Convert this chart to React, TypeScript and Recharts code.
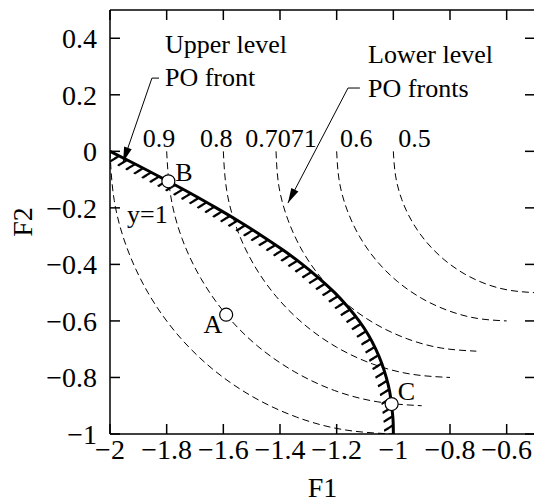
import React from "react";
import {
  ComposedChart,
  Line,
  Scatter,
  XAxis,
  YAxis,
  Label,
} from "recharts";

const FONT = "'Liberation Serif', 'Times New Roman', Times, serif";

// axis ticks
const xTicks = [-2, -1.8, -1.6, -1.4, -1.2, -1, -0.8, -0.6];
const yTicks = [-1, -0.8, -0.6, -0.4, -0.2, 0, 0.2, 0.4];

// upper level PO front (F1, F2)
const upperFront: [number, number][] = [
  [-2, 0], [-1.901, -0.05], [-1.806, -0.1], [-1.713, -0.15], [-1.625, -0.2],
  [-1.541, -0.25], [-1.462, -0.3], [-1.388, -0.35], [-1.321, -0.4], [-1.261, -0.45],
  [-1.207, -0.5], [-1.161, -0.55], [-1.121, -0.6], [-1.088, -0.65], [-1.062, -0.7],
  [-1.041, -0.75], [-1.025, -0.8], [-1.013, -0.85], [-1.006, -0.9], [-1.001, -0.95],
  [-1, -1],
];

// lower level PO fronts, one per y
const lowerY100: [number, number][] = [
  [-2, 0], [-1.985, -0.174], [-1.94, -0.342], [-1.866, -0.5], [-1.766, -0.643],
  [-1.643, -0.766], [-1.5, -0.866], [-1.342, -0.94], [-1.174, -0.985], [-1, -1],
];
const lowerY090: [number, number][] = [
  [-1.8, 0], [-1.786, -0.156], [-1.746, -0.308], [-1.679, -0.45], [-1.589, -0.579],
  [-1.479, -0.689], [-1.35, -0.779], [-1.208, -0.846], [-1.056, -0.886], [-0.9, -0.9],
];
const lowerY080: [number, number][] = [
  [-1.6, 0], [-1.588, -0.139], [-1.552, -0.274], [-1.493, -0.4], [-1.413, -0.514],
  [-1.314, -0.613], [-1.2, -0.693], [-1.074, -0.752], [-0.939, -0.788], [-0.8, -0.8],
];
const lowerY0707: [number, number][] = [
  [-1.414, 0], [-1.404, -0.123], [-1.372, -0.242], [-1.32, -0.354], [-1.249, -0.455],
  [-1.162, -0.542], [-1.061, -0.612], [-0.949, -0.664], [-0.83, -0.696], [-0.707, -0.707],
];
const lowerY060: [number, number][] = [
  [-1.2, 0], [-1.191, -0.104], [-1.164, -0.205], [-1.12, -0.3], [-1.06, -0.386],
  [-0.986, -0.46], [-0.9, -0.52], [-0.805, -0.564], [-0.704, -0.591], [-0.6, -0.6],
];
const lowerY050: [number, number][] = [
  [-1, 0], [-0.992, -0.087], [-0.97, -0.171], [-0.933, -0.25], [-0.883, -0.321],
  [-0.821, -0.383], [-0.75, -0.433], [-0.671, -0.47], [-0.587, -0.492], [-0.5, -0.5],
];
const lowerFronts = [lowerY100, lowerY090, lowerY080, lowerY0707, lowerY060, lowerY050];

// marked solutions
const pointNames = ["A", "B", "C"];
const pointF1 = [-1.59, -1.794, -1.006];
const pointF2 = [-0.578, -0.106, -0.894];

// annotation arrows: leader polylines, tip is last point
const upperArrow: [number, number][] = [[-1.827, 0.259], [-1.852, 0.259], [-1.954, -0.038]];
const lowerArrow: [number, number][] = [[-1.118, 0.224], [-1.16, 0.224], [-1.372, -0.183]];

// text notes in data coordinates
const notes: { text: string; x: number; y: number }[] = [
  { text: "Upper level", x: -1.806, y: 0.348 },
  { text: "PO front", x: -1.806, y: 0.231 },
  { text: "Lower level", x: -1.089, y: 0.312 },
  { text: "PO fronts", x: -1.089, y: 0.192 },
  { text: "y=1", x: -1.94, y: -0.254 },
  { text: "0.9", x: -1.884, y: 0.015 },
  { text: "0.8", x: -1.682, y: 0.015 },
  { text: "0.7071", x: -1.523, y: 0.015 },
  { text: "0.6", x: -1.188, y: 0.015 },
  { text: "0.5", x: -0.983, y: 0.015 },
];

const toRows = (pts: [number, number][]) => pts.map(([x, y]) => ({ x, y }));
const pointRows = pointNames.map((name, i) => ({ name, x: pointF1[i], y: pointF2[i] }));

// layout
const PLOT_W = 425;
const PLOT_H = 424;
const X_DOMAIN = [-2, -0.5];
const Y_DOMAIN = [-1, 0.5];
// hatch copies: each one shifted a pixel down-left along the hatch direction
const HATCH_STEPS = [1, 2, 3, 4, 5, 6, 7, 8, 9, 10];
const HATCH_DX = 0.85;
const HATCH_DY = 0.53;

const labelOffset: Record<string, { dx: number; dy: number; anchor: "start" | "end" }> = {
  A: { dx: -4, dy: 18, anchor: "end" },
  B: { dx: 7, dy: 0, anchor: "start" },
  C: { dx: 6, dy: -4, anchor: "start" },
};

const fmt = (v: number) => (v === 0 ? "0" : String(v).replace("-", "\u2212"));

const axisStroke = { stroke: "#000", strokeWidth: 1.5 };
const tickText = { fontFamily: FONT, fontSize: 28, fill: "#000" };
const noteText = { fontFamily: FONT, fontSize: 26, fill: "#000" };

function XTick(props: any) {
  const { x, y, payload } = props;
  return (
    <text x={x} y={y} dy={17} textAnchor="middle" fill="#000" style={tickText}>
      {fmt(payload.value)}
    </text>
  );
}

function YTick(props: any) {
  const { x, y, payload } = props;
  return (
    <text x={x} y={y} dy={10} textAnchor="end" fill="#000" style={tickText}>
      {fmt(payload.value)}
    </text>
  );
}

function XTitle(props: any) {
  const { x, y, width, height } = props.viewBox;
  return (
    <text x={x + width / 2} y={y + height - 5} textAnchor="middle" fill="#000" style={tickText}>
      F1
    </text>
  );
}

function YTitle(props: any) {
  const { x, y, width, height } = props.viewBox;
  const cx = x + width / 2 - 33;
  const cy = y + height / 2;
  return (
    <text x={cx} y={cy} dy={10} textAnchor="middle" fill="#000" style={tickText} transform={`rotate(-90, ${cx}, ${cy})`}>
      F2
    </text>
  );
}

function PointShape(props: any) {
  const { cx, cy, payload } = props;
  const o = labelOffset[payload.name];
  return (
    <g>
      <circle cx={cx} cy={cy} r={6.5} fill="#fff" stroke="#000" strokeWidth={1.2} />
      <text x={cx + o.dx} y={cy + o.dy} textAnchor={o.anchor} fill="#000" style={noteText}>
        {payload.name}
      </text>
    </g>
  );
}

function NoteShape(props: any) {
  const { cx, cy, payload } = props;
  return (
    <text x={cx} y={cy} fill="#000" style={noteText}>
      {payload.text}
    </text>
  );
}

function arrowHead(angleDeg: number) {
  return function ArrowHead(props: any) {
    const { cx, cy } = props;
    const a = (angleDeg * Math.PI) / 180;
    const L = 15;
    const W = 4;
    const bx = cx - L * Math.cos(a);
    const by = cy - L * Math.sin(a);
    const nx = -Math.sin(a) * W;
    const ny = Math.cos(a) * W;
    return <polygon points={`${cx},${cy} ${bx + nx},${by + ny} ${bx - nx},${by - ny}`} fill="#000" />;
  };
}

export default function App() {
  const unitX = (X_DOMAIN[1] - X_DOMAIN[0]) / PLOT_W;
  const unitY = (Y_DOMAIN[1] - Y_DOMAIN[0]) / PLOT_H;
  const front = toRows(upperFront);

  return (
    <div style={{ position: "fixed", left: 0, top: 0, width: 534, height: 502, overflow: "hidden", background: "#fff", fontFamily: FONT }}>
      <ComposedChart width={548} height={502} margin={{ top: 9, right: 12, bottom: 0, left: 0 }}>
        <XAxis
          type="number"
          dataKey="x"
          domain={X_DOMAIN}
          allowDataOverflow
          ticks={xTicks}
          tick={<XTick />}
          tickSize={-10}
          tickMargin={18}
          axisLine={axisStroke}
          tickLine={axisStroke}
          height={68}
          interval={0}
        >
          <Label content={<XTitle />} />
        </XAxis>
        <XAxis
          xAxisId="top"
          orientation="top"
          type="number"
          dataKey="x"
          domain={X_DOMAIN}
          allowDataOverflow
          ticks={xTicks}
          tickFormatter={() => ""}
          tickSize={-10}
          axisLine={axisStroke}
          tickLine={axisStroke}
          height={1}
          interval={0}
        />
        <YAxis
          type="number"
          domain={Y_DOMAIN}
          allowDataOverflow
          ticks={yTicks}
          tick={<YTick />}
          tickSize={-10}
          tickMargin={23}
          axisLine={axisStroke}
          tickLine={axisStroke}
          width={110}
          interval={0}
        >
          <Label content={<YTitle />} />
        </YAxis>
        <YAxis
          yAxisId="right"
          orientation="right"
          type="number"
          domain={Y_DOMAIN}
          allowDataOverflow
          ticks={yTicks}
          tickFormatter={() => ""}
          tickSize={-10}
          axisLine={axisStroke}
          tickLine={axisStroke}
          width={1}
          interval={0}
        />
        {HATCH_STEPS.map((k) => (
          <XAxis
            key={`hx${k}`}
            xAxisId={`h${k}`}
            type="number"
            dataKey="x"
            domain={[X_DOMAIN[0] + k * HATCH_DX * unitX, X_DOMAIN[1] + k * HATCH_DX * unitX]}
            allowDataOverflow
            hide
          />
        ))}
        {HATCH_STEPS.map((k) => (
          <YAxis
            key={`hy${k}`}
            yAxisId={`h${k}`}
            type="number"
            domain={[Y_DOMAIN[0] + k * HATCH_DY * unitY, Y_DOMAIN[1] + k * HATCH_DY * unitY]}
            allowDataOverflow
            hide
          />
        ))}

        {/* invisible series so the mirrored top/right axes get drawn */}
        <Line
          xAxisId="top"
          yAxisId="right"
          data={front}
          dataKey="y"
          stroke="none"
          dot={false}
          activeDot={false}
          isAnimationActive={false}
        />

        {lowerFronts.map((pts, i) => (
          <Line
            key={`lower${i}`}
            data={toRows(pts)}
            dataKey="y"
            type="natural"
            stroke="#000"
            strokeWidth={1}
            strokeDasharray="7 4"
            dot={false}
            activeDot={false}
            isAnimationActive={false}
          />
        ))}

        {HATCH_STEPS.map((k) => (
          <Line
            key={`hatch${k}`}
            xAxisId={`h${k}`}
            yAxisId={`h${k}`}
            data={front}
            dataKey="y"
            type="natural"
            stroke="#000"
            strokeWidth={1.5}
            strokeDasharray="2.2 6.8"
            dot={false}
            activeDot={false}
            isAnimationActive={false}
          />
        ))}

        <Line
          data={front}
          dataKey="y"
          type="natural"
          stroke="#000"
          strokeWidth={3}
          dot={false}
          activeDot={false}
          isAnimationActive={false}
        />

        <Line data={toRows(upperArrow)} dataKey="y" type="linear" stroke="#000" strokeWidth={1} dot={false} activeDot={false} isAnimationActive={false} />
        <Line data={toRows(lowerArrow)} dataKey="y" type="linear" stroke="#000" strokeWidth={1} dot={false} activeDot={false} isAnimationActive={false} />
        <Scatter data={toRows(upperArrow.slice(-1))} dataKey="y" shape={arrowHead(109)} isAnimationActive={false} />
        <Scatter data={toRows(lowerArrow.slice(-1))} dataKey="y" shape={arrowHead(117.5)} isAnimationActive={false} />

        <Scatter data={pointRows} dataKey="y" shape={PointShape} isAnimationActive={false} />
        <Scatter data={notes} dataKey="y" shape={NoteShape} isAnimationActive={false} />
      </ComposedChart>
    </div>
  );
}
